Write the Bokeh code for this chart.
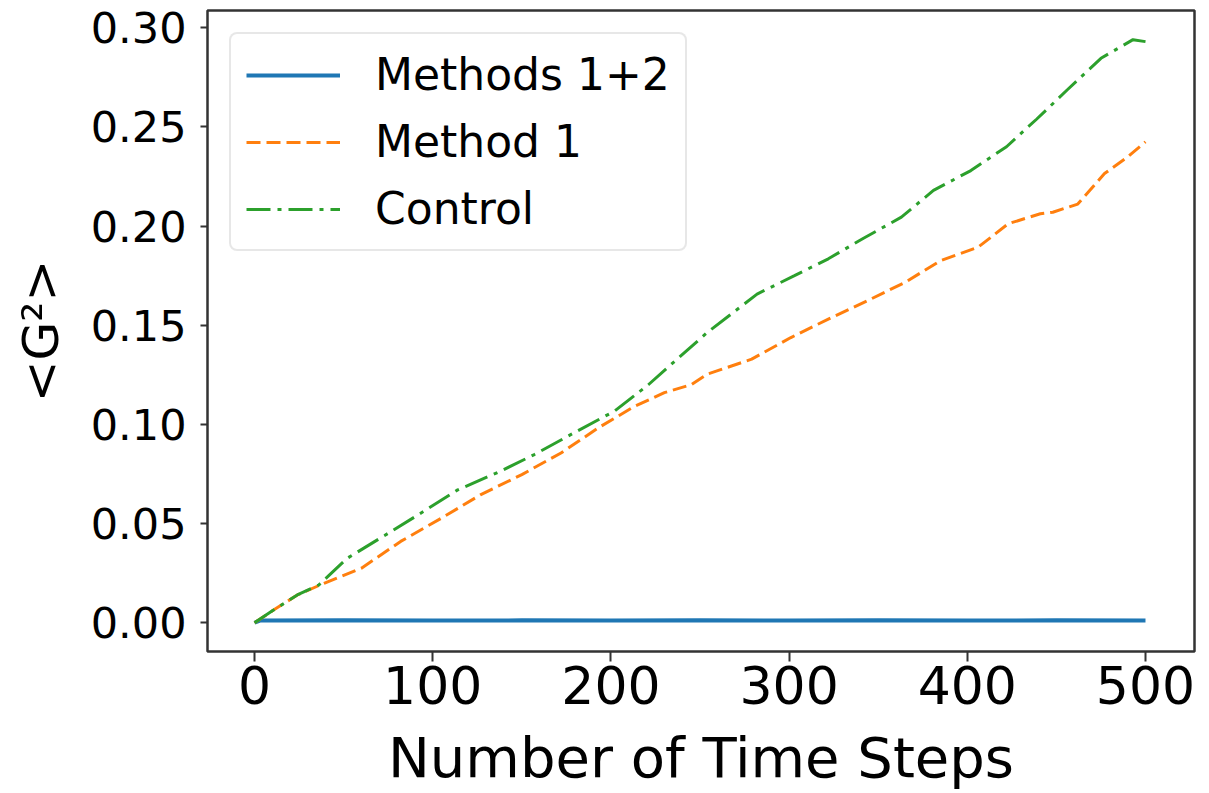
from bokeh.plotting import figure
from bokeh.models import Range1d, FixedTicker, Legend, LegendItem
from bokeh.embed import file_html
from bokeh.resources import INLINE

# ---- data ----
blue_x = [0, 3, 50, 100, 150, 200, 250, 300, 350, 400, 450, 500]
blue_y = [0.0, 0.0011, 0.0012, 0.0011, 0.0012, 0.0011, 0.0012, 0.0011, 0.0012, 0.0011, 0.0012, 0.0011]

orange_x = [0, 10, 24, 39, 60, 82, 105, 127, 150, 172, 193, 213, 230, 245, 254, 279, 301, 322,
            344, 365, 385, 406, 423, 441, 448, 462, 477, 490, 500]
orange_y = [0.0, 0.006, 0.014, 0.0199, 0.0275, 0.041, 0.0528, 0.0646, 0.0747, 0.0856, 0.0983,
            0.109, 0.116, 0.120, 0.1253, 0.1329, 0.1438, 0.1531, 0.1624, 0.1716, 0.1826, 0.1893,
            0.2012, 0.2062, 0.207, 0.2111, 0.2265, 0.2349, 0.2425]

green_x = [0, 10, 24, 36, 52, 73, 92, 114, 138, 157, 181, 202, 221, 236, 254, 282, 303, 322,
           342, 363, 381, 402, 422, 439, 456, 475, 493, 500]
green_y = [0.0, 0.006, 0.014, 0.019, 0.0325, 0.044, 0.0545, 0.067, 0.0764, 0.0848, 0.0966,
           0.1067, 0.120, 0.132, 0.1463, 0.1657, 0.175, 0.1835, 0.194, 0.2045, 0.218, 0.228,
           0.240, 0.254, 0.2686, 0.2846, 0.294, 0.293]

x_ticks = [0, 100, 200, 300, 400, 500]
y_ticks = [0.0, 0.05, 0.10, 0.15, 0.20, 0.25, 0.30]
y_tick_labels = {0.0: "0.00", 0.05: "0.05", 0.10: "0.10", 0.15: "0.15",
                 0.20: "0.20", 0.25: "0.25", 0.30: "0.30"}
series_names = ["Methods 1+2", "Method 1", "Control"]

FONT = "DejaVu Sans"

p = figure(width=1203, height=793, output_backend="svg", toolbar_location=None,
           x_range=Range1d(-26.4, 527.5), y_range=Range1d(-0.0145, 0.3087),
           min_border_left=207, min_border_right=9, min_border_top=10, min_border_bottom=142)

p.grid.visible = False
p.outline_line_color = "#333333"
p.outline_line_width = 2.5
p.background_fill_color = "white"
p.border_fill_color = "white"

r1 = p.line(blue_x, blue_y, line_color="#1f77b4", line_width=4)
r2 = p.line(orange_x, orange_y, line_color="#ff7f0e", line_width=3, line_dash="14 6")
r3 = p.line(green_x, green_y, line_color="#2ca02c", line_width=3, line_dash="24 7 4 7")

# axes
p.xaxis.ticker = FixedTicker(ticks=x_ticks)
p.yaxis.ticker = FixedTicker(ticks=y_ticks)
p.yaxis.major_label_overrides = y_tick_labels
for ax in (p.xaxis[0], p.yaxis[0]):
    ax.axis_line_color = None
    ax.minor_tick_line_color = None
    ax.major_tick_line_color = "#333333"
    ax.major_tick_line_width = 2
    ax.major_tick_in = 0
    ax.major_label_text_font = FONT
    ax.major_label_text_color = "black"
    ax.axis_label_text_font = FONT
    ax.axis_label_text_font_style = "normal"
    ax.axis_label_text_color = "black"

p.xaxis.major_tick_out = 10
p.xaxis.major_label_text_font_size = "52px"
p.xaxis.major_label_standoff = 4
p.xaxis.axis_label = "Number of Time Steps"
p.xaxis.axis_label_text_font_size = "56px"
p.xaxis.axis_label_standoff = 18

p.yaxis.major_tick_out = 7
p.yaxis.major_label_text_font_size = "43px"
p.yaxis.major_label_standoff = 14
p.yaxis.axis_label = "<G²>"
p.yaxis.axis_label_text_font_size = "50px"
p.yaxis.axis_label_standoff = 18

legend = Legend(items=[LegendItem(label=series_names[0], renderers=[r1]),
                       LegendItem(label=series_names[1], renderers=[r2]),
                       LegendItem(label=series_names[2], renderers=[r3])],
                location="top_left")
legend.margin = 22
legend.padding = 15
legend.spacing = 16
legend.glyph_width = 94
legend.glyph_height = 50
legend.label_height = 50
legend.label_standoff = 35
legend.label_text_font = FONT
legend.label_text_font_size = "44px"
legend.label_text_color = "black"
legend.border_line_color = "#d0d0d0"
legend.border_line_width = 2
legend.background_fill_alpha = 0.8
try:
    legend.border_radius = 8
except Exception:
    pass
p.add_layout(legend)

open("out.html", "w").write(file_html(p, INLINE))
